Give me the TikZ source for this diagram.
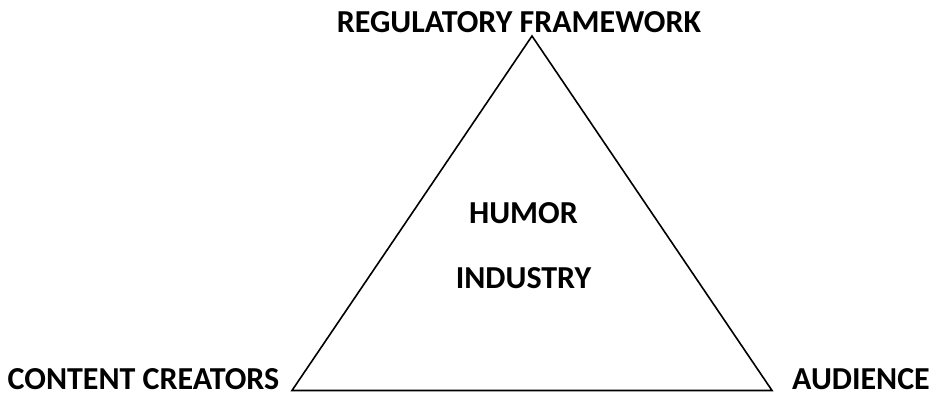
\documentclass[tikz,border=0pt]{standalone}
\usepackage{fontspec}
\setmainfont{Carlito}
\begin{document}
\begin{tikzpicture}[x=1pt,y=-1pt,
  lbl/.style={font=\fontsize{32}{38}\selectfont\bfseries, inner sep=0pt, text depth=0pt, anchor=base},
  edge/.style={draw=black, line width=1.6pt, line join=miter}]
  \useasboundingbox (0,0) rectangle (930,393);
  % corners of the triangle
  \coordinate (top) at (532,36);
  \coordinate (bl) at (292,390.5);
  \coordinate (br) at (772,390.5);
  \draw[edge] (top) -- (bl) -- (br) -- cycle;
  % labels
  \node[lbl] (reg) at (519,33) {REGULATORY FRAMEWORK};
  \node[lbl] (cc) at (143.5,389.5) {CONTENT CREATORS};
  \node[lbl] (aud) at (861,389.5) {AUDIENCE};
  \node[lbl] (humor) at (523.5,223) {HUMOR};
  \node[lbl] (ind) at (523.5,288) {INDUSTRY};
\end{tikzpicture}
\end{document}
